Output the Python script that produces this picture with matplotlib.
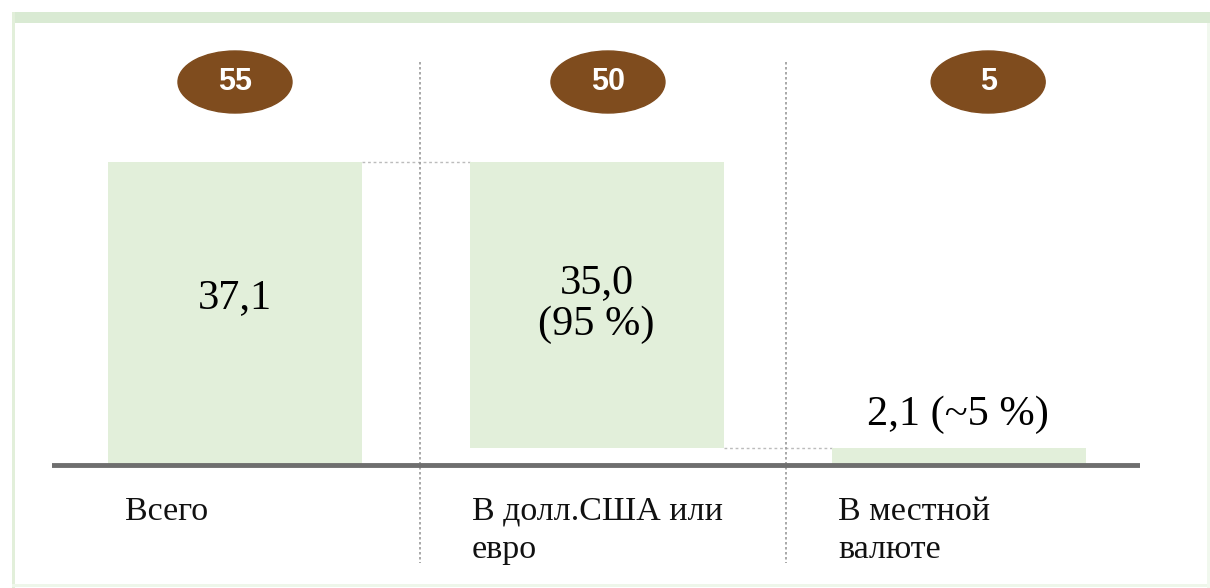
import matplotlib
matplotlib.use("Agg")
import matplotlib.pyplot as plt
from matplotlib.patches import Ellipse, Rectangle

# Data
categories = ["Всего", "В долл.США или\nевро", "В местной\nвалюте"]
bar_bottoms = [0.0, 2.1, 0.0]
bar_values = [37.1, 35.0, 2.1]
value_labels = ["37,1", "35,0\n(95 %)", "2,1 (~5 %)"]
badge_labels = ["55", "50", "5"]

W, H = 1210, 588
fig = plt.figure(figsize=(W / 100, H / 100), dpi=100)
fig.patch.set_facecolor("white")

# frame (light green)
def px_rect(x0, y0, x1, y1, color):
    fig.patches.append(Rectangle((x0 / W, 1 - y1 / H), (x1 - x0) / W, (y1 - y0) / H,
                                 transform=fig.transFigure, color=color, zorder=0, lw=0))

px_rect(12, 12, W, 23, "#d9ead3")
px_rect(12, 12, 15, H, "#e2efda")
px_rect(12, 584, W, 587, "#eef6ea")
px_rect(1207, 23, 1210, H, "#f1f8ee")

# main axes: pixel layout
ax_l, ax_r = 52, 1140
ax_t, ax_b = 40, 575
base_y = 465
ppu = (base_y - 162) / 37.1
ax = fig.add_axes([ax_l / W, 1 - ax_b / H, (ax_r - ax_l) / W, (ax_b - ax_t) / H])
ax.set_xlim((ax_l - 235) / 361.75, (ax_r - 235) / 361.75)
ax.set_ylim(-(ax_b - base_y) / ppu, (base_y - ax_t) / ppu)
ax.axis("off")

xs = list(range(len(categories)))
bw = 254 / 361.75
ax.bar(xs, bar_values, bottom=bar_bottoms, width=bw, color="#e2efda",
       edgecolor="none", zorder=2)

# baseline
ax.axhline(0, xmin=0, xmax=1, color="#6e6e6e", lw=3.5, zorder=3)

# connectors
ax.plot([0 + bw / 2, 1 - bw / 2], [bar_bottoms[0] + bar_values[0]] * 2,
        color="#bcbcbc", lw=1.0, ls=(0, (2, 2)), zorder=1)
ax.plot([1 + bw / 2, 2 - bw / 2], [bar_bottoms[2] + bar_values[2]] * 2,
        color="#bcbcbc", lw=1.0, ls=(0, (2, 2)), zorder=1)

# separators
for sx in [0.511, 1.523]:
    ax.plot([sx, sx], [(base_y - 62) / ppu, -(563 - base_y) / ppu],
            color="#9a9a9a", lw=1.2, ls=(0, (1.5, 1.5)), zorder=1)

# badges
badge_x = [0.0, 1.031, 2.082]
badge_y = (base_y - 82) / ppu
for bx, lab in zip(badge_x, badge_labels):
    ax.add_patch(Ellipse((bx, badge_y), 114 / 361.75, 62 / ppu,
                         color="#7f4c1e", zorder=4, clip_on=False))
    ax.text(bx, badge_y, lab, ha="center", va="center", color="white",
            fontsize=22, fontweight="bold",
            family="Liberation Sans", zorder=5)

# value labels
val_pos = [(0.0, (base_y - 298) / ppu), (1.0, (base_y - 304) / ppu),
           (1.998, (base_y - 415) / ppu)]
for (vx, vy), lab in zip(val_pos, value_labels):
    ax.text(vx, vy, lab, ha="center", va="center", fontsize=30.5,
            family="Liberation Serif", color="#000000", linespacing=1.1, zorder=5)

# category labels
cat_x = [(125 - 235) / 361.75, (472 - 235) / 361.75, (838 - 235) / 361.75]
cat_y = -(496 - base_y) / ppu
for cx, lab in zip(cat_x, categories):
    ax.text(cx, cat_y, lab, ha="left", va="top", fontsize=24.5,
            family="Liberation Serif", color="#111111", linespacing=1.35, zorder=5)

fig.savefig("out.png", dpi=100, facecolor="white")
